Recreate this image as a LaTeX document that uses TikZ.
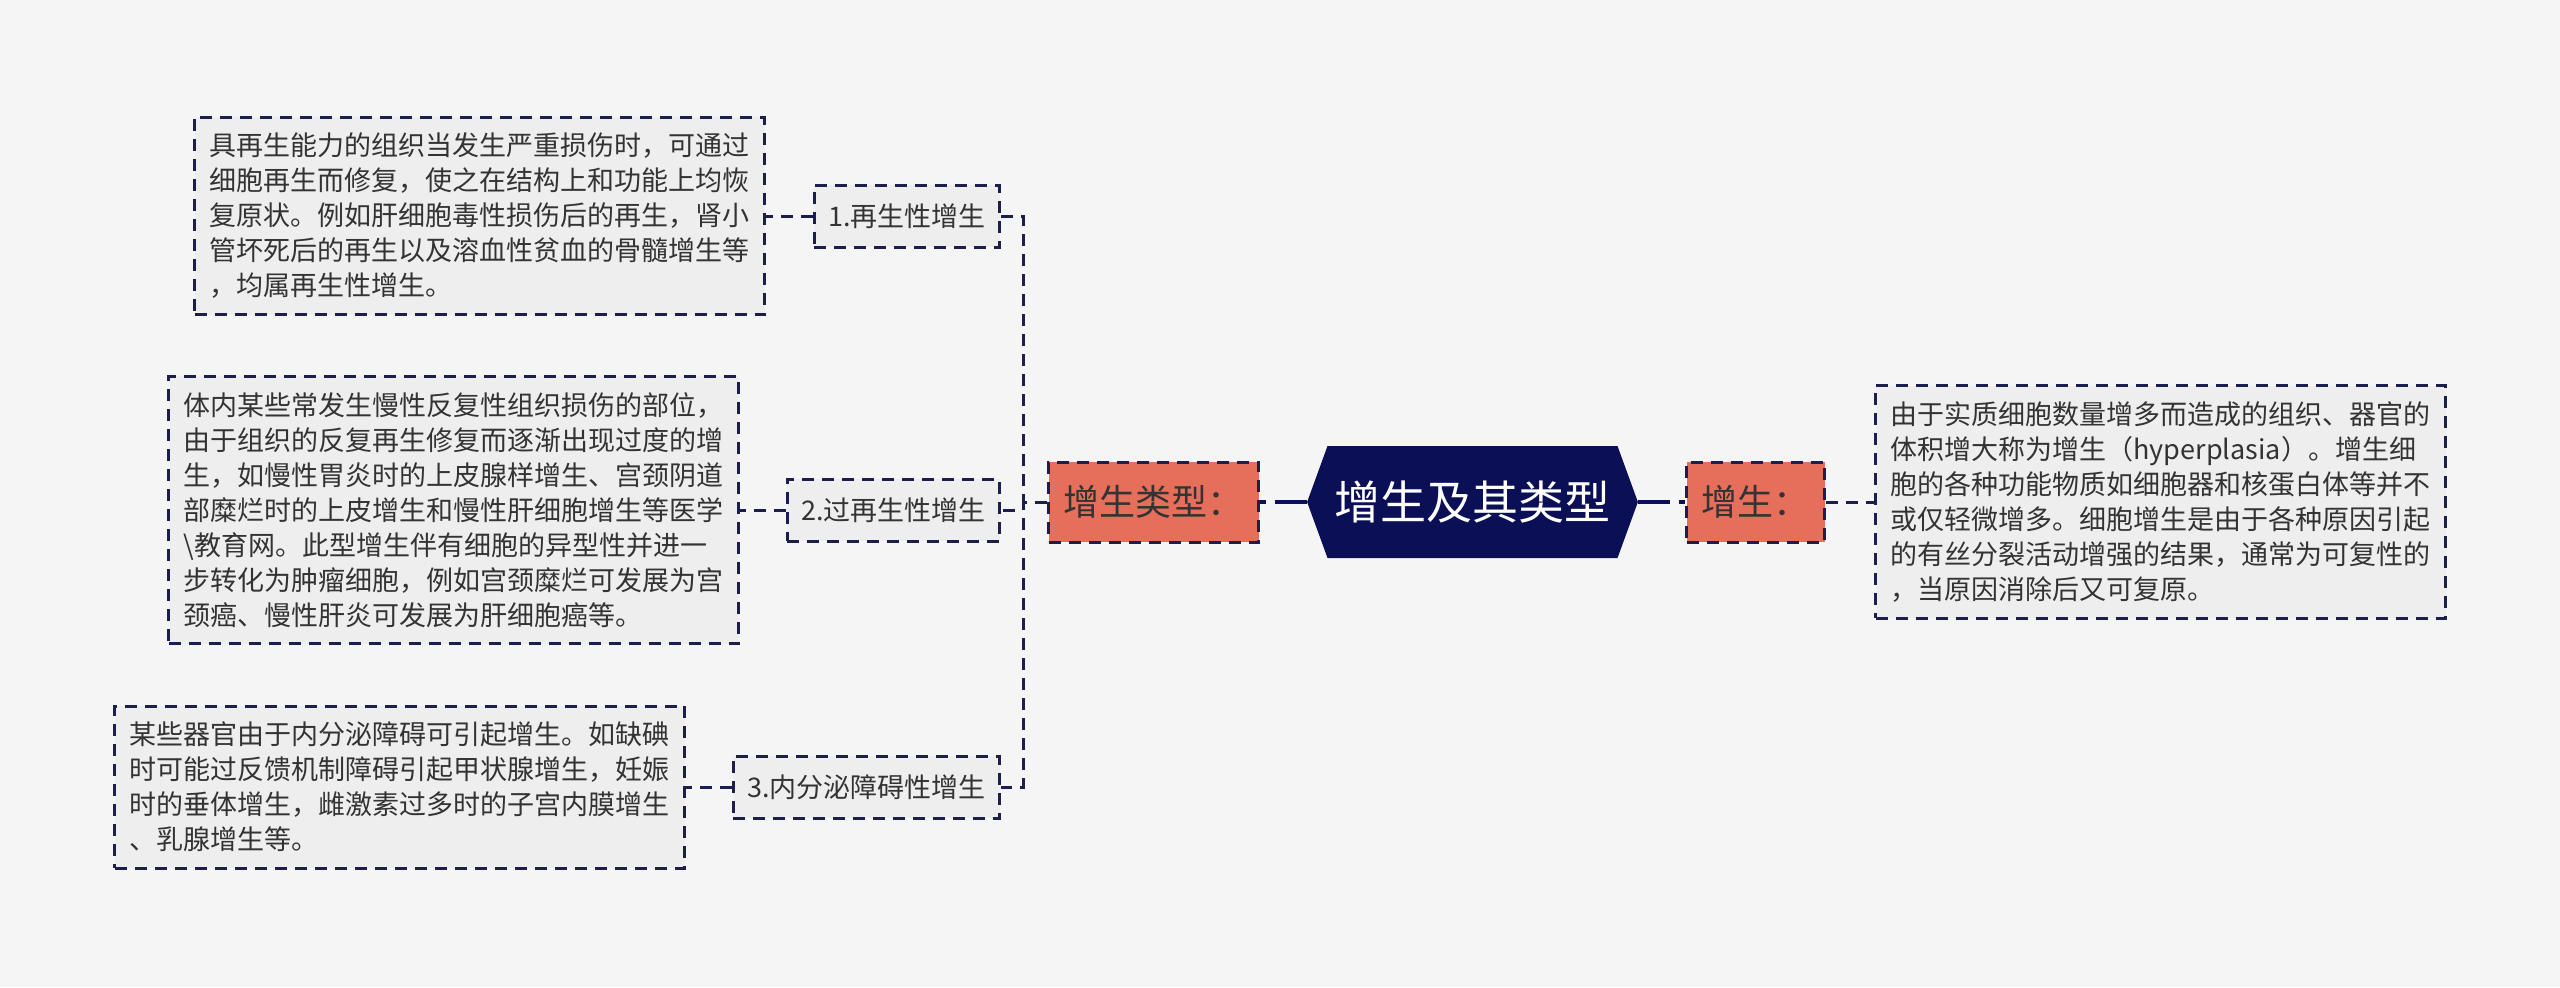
\documentclass[tikz,border=0pt]{standalone}
\usepackage{fontspec}
\setmainfont{Noto Sans CJK SC}
\usepackage{xcolor}
\usetikzlibrary{shapes.symbols}
\definecolor{navy}{HTML}{0B0F55}
\definecolor{dashnavy}{HTML}{1C1F4E}
\definecolor{salmon}{HTML}{E56F5A}
\definecolor{bggray}{HTML}{F5F5F5}
\definecolor{leafgray}{HTML}{EEEEEE}
\definecolor{txtgray}{HTML}{333333}

\tikzset{
  dashline/.style={draw=dashnavy,line width=1.5pt,dash pattern=on 6pt off 4pt},
  leafbox/.style={dashline,fill=leafgray,text=txtgray,align=left,inner xsep=7.5pt,inner ysep=8pt,
    font=\fontsize{13.5pt}{17.5pt}\selectfont},
  subbox/.style={dashline,fill=leafgray,text=txtgray,inner xsep=7pt,minimum height=31pt,
    font=\fontsize{13.5pt}{17.5pt}\selectfont},
  typebox/.style={dashline,fill=salmon,text=txtgray,inner xsep=7.5pt,minimum height=40pt,
    font=\fontsize{18pt}{22pt}\selectfont},
  titlebox/.style={signal,signal to=west and east,signal pointer angle=140,fill=navy,text=white,
    minimum height=56pt,inner xsep=3.5pt,font=\fontsize{23pt}{28pt}\selectfont},
  hexline/.style={draw=navy,line width=2pt,dash pattern=on 16pt off 4.5pt},
}

\begin{document}
\begin{tikzpicture}[x=0.5pt,y=-0.5pt]
		\fill[bggray] (0,0) rectangle (2560,987);
		\useasboundingbox (0,0) rectangle (2560,987);
		% centre and the two first-level boxes
		\node[titlebox] (title) at (1472.5,502) {增生及其类型};
		\node[typebox,anchor=east] (types) at (1260,502) {增生类型：};
		\node[typebox,anchor=west] (defn) at (1685,502) {增生：};
		\draw[hexline] (title.west) -- (types.east);
		\draw[hexline] (title.east) -- (defn.west);
		% right side
		\node[leafbox,anchor=west] (defleaf) at (1874,502) {由于实质细胞数量增多而造成的组织、器官的\\体积增大称为增生（hyperplasia）。增生细\\胞的各种功能物质如细胞器和核蛋白体等并不\\或仅轻微增多。细胞增生是由于各种原因引起\\的有丝分裂活动增强的结果，通常为可复性的\\，当原因消除后又可复原。};
		\draw[dashline] (defn.east) -- (defleaf.west);
		% left side
		\node[subbox,anchor=east] (regen) at (1001,216) {1.再生性增生};
		\node[subbox,anchor=east] (hyper) at (1001,510) {2.过再生性增生};
		\node[subbox,anchor=east] (endo) at (1001,787) {3.内分泌障碍性增生};
		\draw[dashline] (types.west) -- ++(-24,0) |- (regen.east);
		\draw[dashline] (types.west) -- ++(-24,0) |- (hyper.east);
		\draw[dashline] (types.west) -- ++(-24,0) |- (endo.east);
		\node[leafbox,anchor=east] (regenleaf) at (766,216) {具再生能力的组织当发生严重损伤时，可通过\\细胞再生而修复，使之在结构上和功能上均恢\\复原状。例如肝细胞毒性损伤后的再生，肾小\\管坏死后的再生以及溶血性贫血的骨髓增生等\\，均属再生性增生。};
		\node[leafbox,anchor=east] (hyperleaf) at (740,510) {体内某些常发生慢性反复性组织损伤的部位，\\由于组织的反复再生修复而逐渐出现过度的增\\生，如慢性胃炎时的上皮腺样增生、宫颈阴道\\部糜烂时的上皮增生和慢性肝细胞增生等医学\\\textbackslash 教育网。此型增生伴有细胞的异型性并进一\\步转化为肿瘤细胞，例如宫颈糜烂可发展为宫\\颈癌、慢性肝炎可发展为肝细胞癌等。};
		\node[leafbox,anchor=east] (endoleaf) at (686,787) {某些器官由于内分泌障碍可引起增生。如缺碘\\时可能过反馈机制障碍引起甲状腺增生，妊娠\\时的垂体增生，雌激素过多时的子宫内膜增生\\、乳腺增生等。};
		\draw[dashline] (regen.west) -- (regenleaf.east);
		\draw[dashline] (hyper.west) -- (hyperleaf.east);
		\draw[dashline] (endo.west) -- (endoleaf.east);
\end{tikzpicture}
\end{document}
